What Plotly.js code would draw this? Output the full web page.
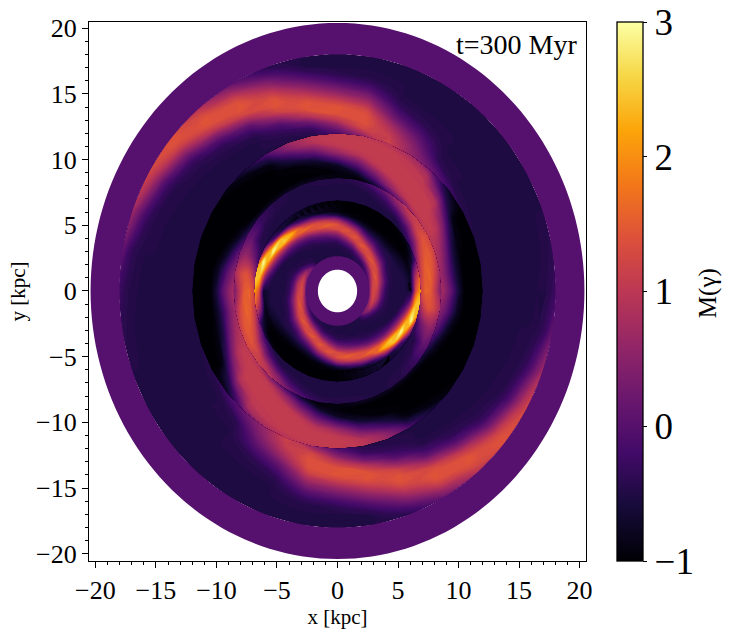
<!DOCTYPE html>
<html>
<head>
<meta charset="utf-8">
<script src="https://cdn.plot.ly/plotly-3.0.1.min.js"></script>
<style>
body {margin: 0; background: white;}
</style>
</head>
<body>
<div id="graph" style="width:730px;height:632px;"></div>
<script>
//Data Preparation
//angles of the table rows in degrees, the picture repeats after 180 degrees
let angles = [0, 10, 20, 30, 40, 50, 60, 70, 80, 90, 100, 110, 120, 130, 140, 150, 160, 170];

//flat rings with M = 0
let flatRings = [[1.62, 2.65], [18, 20.4]];
let flatValue = 0;

//inner spiral, one row per angle
let radiiC = [2.6, 2.95, 3.3, 3.65, 4, 4.35, 4.7, 5.05, 5.4, 5.75, 6.1, 6.5, 6.95];
let valuesC = [
    [.5, 1.3, 1.05, .2, -.35, -.5, -.5, -.5, -.5, -.6, -.7, 1.4, 2.3],
    [.1, 1.2, 1.3, .6, -.1, -.45, -.5, -.5, -.5, -.6, -.8, .7, 1.6],
    [-.3, .9, 1.5, .9, .1, -.4, -.5, -.5, -.6, -.7, -.9, -.7, .2],
    [-.4, .4, 1.3, 1.3, .55, -.1, -.45, -.5, -.7, -.85, -1, -1, -.6],
    [-.5, 0, 1, 1.5, .9, .1, -.35, -.55, -.8, -.95, -1, -1, -.9],
    [-.5, -.3, .55, 1.3, 1.3, .55, -.1, -.5, -.8, -1, -1, -1, -1],
    [-.5, -.4, .1, 1, 1.5, 1, .2, -.4, -.8, -1, -1, -1, -1],
    [-.5, -.5, -.3, .3, 1.1, 1.5, 1, .2, -.6, -.95, -1, -1, -1],
    [-.5, -.5, -.45, -.1, .5, 1.2, 1.45, .8, -.1, -.85, -1, -1, -1],
    [-.5, -.5, -.5, -.4, 0, .6, 1.3, 1.4, .7, -.5, -1, -1, -1],
    [-.5, -.5, -.5, -.45, -.2, .3, 1, 1.6, 1.1, -.1, -.9, -1, -.9],
    [-.5, -.5, -.5, -.5, -.3, 0, .7, 1.4, 1.4, .5, -.6, -1, -.8],
    [-.5, -.5, -.5, -.5, -.45, -.25, .2, 1, 1.7, 1, -.2, -.9, -.7],
    [-.5, -.5, -.5, -.5, -.5, -.4, -.1, .5, 1.5, 2.2, .9, -.7, -.6],
    [.4, -.1, -.45, -.5, -.5, -.5, -.3, .1, 1, 2.5, 2.4, -.2, -.7],
    [.5, .6, -.1, -.45, -.5, -.5, -.5, -.2, .5, 1.5, 3, 1.4, -.6],
    [.3, 1.1, .5, -.2, -.45, -.5, -.5, -.5, -.1, .7, 1.9, 3, .6],
    [.4, 1.25, .9, 0, -.4, -.5, -.5, -.5, -.5, -.2, .6, 2.4, 2.5]
];

//narrow ring outside it
let radiiD = [6.9, 7.3, 7.7, 8.1, 8.65];
let valuesD = [
    [1.2, 1.6, 1.5, 1, .2],
    [1, 1.5, 1.6, 1.3, .6],
    [.4, 1.2, 1.5, 1.5, 1],
    [-.3, .4, 1.1, 1.4, 1.2],
    [-.5, -.2, .4, 1, 1.2],
    [-.5, -.5, -.1, .5, 1],
    [-.5, -.5, -.4, -.1, .5],
    [-.5, -.5, -.5, -.4, 0],
    [-.5, -.5, -.5, -.5, -.35],
    [-.5, -.5, -.5, -.5, -.45],
    [-.5, -.5, -.5, -.5, -.45],
    [-.5, -.5, -.5, -.5, -.5],
    [-.5, -.5, -.5, -.5, -.5],
    [-.5, -.5, -.5, -.45, -.45],
    [-.5, -.5, -.45, -.3, -.3],
    [-.5, -.45, -.2, .1, 0],
    [-.3, .2, .5, .6, .3],
    [.6, 1.2, 1.4, 1.2, .7]
];

//broad red arm
let radiiE = [8.6, 9, 9.5, 10, 10.5, 11, 11.5, 12.05];
let valuesE = [
    [.8, .5, 0, -.6, -1, -1, -1, -1],
    [.7, .4, -.2, -.7, -1, -1, -1, -1],
    [.9, .7, .2, -.5, -.9, -1, -1, -1],
    [1, 1.05, .9, .4, -.3, -.9, -1, -1],
    [.9, 1.1, 1.1, 1.05, .9, .3, -.4, -.8],
    [.4, 1, 1.1, 1.1, 1.05, 1, .8, .2],
    [-.1, .6, 1, 1.1, 1.1, 1.05, 1, .7],
    [-.7, -.1, .5, 1, 1.1, 1.1, 1.1, .9],
    [-1, -.8, -.2, .4, .95, 1.1, 1.1, 1],
    [-.9, -.95, -.8, -.1, .6, 1, 1.1, 1.05],
    [-.8, -1, -.95, -.7, -.1, .5, .95, 1],
    [-.8, -1, -1, -.95, -.6, -.1, .5, .7],
    [-.8, -1, -1, -1, -1, -.9, -.5, 0],
    [-.8, -1, -1, -1, -1, -1, -.9, -.5],
    [-.7, -1, -1, -1, -1, -1, -1, -.9],
    [-.4, -.8, -1, -1, -1, -1, -1, -1],
    [.1, -.3, -.8, -1, -1, -1, -1, -1],
    [.5, .2, -.3, -.8, -1, -1, -1, -1]
];

//outer orange arm
let radiiF = [12, 12.5, 13, 13.5, 14, 14.5, 15, 15.5, 16, 16.5, 17, 17.5, 18.05];
let valuesF = [
    [-.5, -.5, -.5, -.5, -.5, -.5, -.5, -.5, -.5, -.5, -.48, -.42, -.25],
    [-.5, -.5, -.5, -.5, -.5, -.5, -.5, -.5, -.5, -.5, -.5, -.48, -.4],
    [-.5, -.5, -.5, -.5, -.5, -.5, -.5, -.5, -.5, -.5, -.5, -.5, -.5],
    [-.45, -.5, -.5, -.5, -.5, -.5, -.5, -.5, -.5, -.5, -.5, -.5, -.5],
    [-.2, -.45, -.5, -.5, -.5, -.5, -.5, -.5, -.5, -.5, -.5, -.5, -.5],
    [.2, -.1, -.4, -.48, -.5, -.5, -.5, -.5, -.5, -.5, -.5, -.5, -.5],
    [.6, .5, .3, .05, -.2, -.4, -.48, -.5, -.5, -.5, -.5, -.5, -.5],
    [1.2, 1.1, .9, .6, .2, -.1, -.35, -.47, -.5, -.5, -.5, -.5, -.5],
    [.6, 1.2, 1.4, 1.4, 1.2, .8, .4, 0, -.3, -.48, -.5, -.5, -.5],
    [-.1, .4, 1, 1.4, 1.45, 1.1, .65, .25, -.15, -.4, -.5, -.5, -.5],
    [-.45, -.3, .2, .95, 1.4, 1.45, 1.15, .75, .35, -.05, -.35, -.5, -.5],
    [-.5, -.45, -.3, 0, .6, 1.2, 1.45, 1.4, 1.1, .7, .3, -.1, -.4],
    [-.5, -.5, -.5, -.45, -.25, .1, .7, 1.25, 1.45, 1.4, 1.1, .65, .2],
    [-.5, -.5, -.5, -.5, -.45, -.35, -.05, .45, 1.05, 1.4, 1.45, 1.25, .9],
    [-.5, -.5, -.5, -.5, -.5, -.48, -.42, -.25, .15, .65, 1.15, 1.4, 1.4],
    [-.5, -.5, -.5, -.5, -.5, -.5, -.48, -.45, -.3, 0, .5, .95, 1.25],
    [-.5, -.5, -.5, -.5, -.5, -.5, -.5, -.48, -.45, -.35, -.1, .3, .75],
    [-.5, -.5, -.5, -.5, -.5, -.5, -.5, -.5, -.5, -.48, -.42, -.25, .15]
];

let tickValues = [-20, -15, -10, -5, 0, 5, 10, 15, 20];
let colorTicks = [-1, 0, 1, 2, 3];

let inferno = [
    [0, '#000004'], [.1, '#160b39'], [.2, '#420a68'], [.3, '#6a176e'], [.4, '#932667'],
    [.5, '#bc3754'], [.6, '#dd513a'], [.7, '#f37819'], [.8, '#fca50a'], [.9, '#f6d746'], [1, '#fcffa4']
];

//Plot
const serif = '"Liberation Serif", "Times New Roman", serif';
const flatColor = '#56106e';

//two turns of the half table, so the picture closes at 360 degrees
let fullAngles = angles.concat(angles.map(a => a + 180), [360]);

function fullRows(rows) {
    return rows.concat(rows, [rows[0]]);
}

function spiralTraces(name, radii, rows) {
    let x = fullAngles.map(a => radii.map(r => r * Math.cos(a * Math.PI / 180)));
    let y = fullAngles.map(a => radii.map(r => r * Math.sin(a * Math.PI / 180)));
    let hidden = {
        showgrid: false, showline: false, showticklabels: 'none',
        startline: false, endline: false, minorgridcount: 0, smoothing: 0
    };
    return [{
        type: 'carpet', carpet: name, a: radii, b: fullAngles, x: x, y: y,
        aaxis: hidden, baxis: hidden, hoverinfo: 'skip'
    }, {
        type: 'contourcarpet', carpet: name, a: radii, b: fullAngles, z: fullRows(rows),
        autocontour: false,
        contours: {start: -1, end: 3, size: 0.05, coloring: 'fill', showlines: false},
        line: {width: 0},
        colorscale: inferno, zmin: -1, zmax: 3, showscale: false
    }];
}

function ringTrace(ring) {
    let turn = [];
    for (let a = 0; a <= 360; a += 2) {
        turn.push(a);
    };
    let back = turn.slice().reverse();
    return {
        type: 'scatter', mode: 'none', fill: 'toself', fillcolor: flatColor, hoverinfo: 'skip',
        x: turn.map(a => ring[1] * Math.cos(a * Math.PI / 180)).concat(back.map(a => ring[0] * Math.cos(a * Math.PI / 180))),
        y: turn.map(a => ring[1] * Math.sin(a * Math.PI / 180)).concat(back.map(a => ring[0] * Math.sin(a * Math.PI / 180)))
    };
}

//only here for the colour bar
let barTrace = {
    type: 'scatter', mode: 'markers', x: [null], y: [null], hoverinfo: 'skip',
    marker: {
        color: [flatValue], colorscale: inferno, cmin: -1, cmax: 3, showscale: true,
        colorbar: {
            thickness: 26, thicknessmode: 'pixels', len: 539, lenmode: 'pixels',
            x: 1.0625, xanchor: 'left', xpad: 0, y: 0.5, yanchor: 'middle', ypad: 0,
            outlinewidth: 1.3, outlinecolor: '#000',
            tickmode: 'array', tickvals: colorTicks, ticks: 'outside', ticklen: 4, tickwidth: 1, tickcolor: '#000',
            tickfont: {family: serif, size: 37, color: '#000'}
        }
    }
};

let data = [].concat(
    spiralTraces('c', radiiC, valuesC),
    spiralTraces('d', radiiD, valuesD),
    spiralTraces('e', radiiE, valuesE),
    spiralTraces('f', radiiF, valuesF),
    [ringTrace(flatRings[0]), ringTrace(flatRings[1]), barTrace]
);

function axis(label, range, standoff) {
    return {
        range: range, showgrid: false, zeroline: false,
        showline: true, mirror: true, linecolor: '#000', linewidth: 1.3,
        tickmode: 'array', tickvals: tickValues, ticks: 'outside', ticklen: 6, tickwidth: 1, tickcolor: '#000',
        tickangle: 0, tickfont: {family: serif, size: 26, color: '#000'},
        minor: {dtick: 1, ticks: 'outside', ticklen: 3, tickwidth: 1, tickcolor: '#000', showgrid: false},
        title: {text: label, font: {family: serif, size: 21, color: '#000'}, standoff: standoff}
    };
}

let layout = {
    width: 730, height: 632,
    margin: {l: 89, r: 144, t: 22, b: 71},
    paper_bgcolor: 'white', plot_bgcolor: 'white',
    showlegend: false,
    xaxis: axis('x [kpc]', [-20.53, 20.53], 0),
    yaxis: axis('y [kpc]', [-20.55, 20.47], 4),
    annotations: [{
        text: 't=300 Myr', xref: 'paper', yref: 'paper', x: 0.985, y: 0.99,
        xanchor: 'right', yanchor: 'top', showarrow: false,
        font: {family: serif, size: 28, color: '#000'}
    }, {
        text: 'M(γ)', xref: 'paper', yref: 'paper', x: 1.2455, y: 0.497,
        xanchor: 'center', yanchor: 'middle', showarrow: false, textangle: -90,
        font: {family: serif, size: 25, color: '#000'}
    }]
};

Plotly.newPlot('graph', data, layout, {displayModeBar: false});
</script>
</body>
</html>
